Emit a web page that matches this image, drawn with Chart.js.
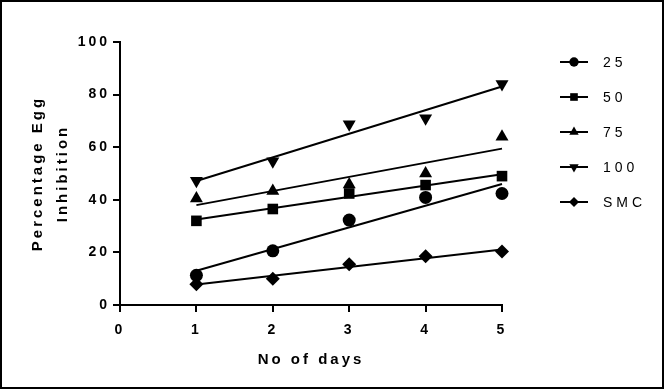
<!DOCTYPE html>
<html lang="en">
<head>
<meta charset="UTF-8">
<title>Percentage Egg Inhibition</title>
<script src="https://cdn.jsdelivr.net/npm/chart.js"></script>
<style>
  body { margin: 0; background: #fff; }
  #wrap { position: relative; width: 664px; height: 389px; }
  #wrap::after { content: ''; position: absolute; inset: 0; border: 2px solid #000; pointer-events: none; }
</style>
</head>
<body>
<div id="wrap"><canvas id="chart" width="664" height="389"></canvas></div>
<script>
// data
const days = [1, 2, 3, 4, 5];
const seriesNames = ['25', '50', '75', '100', 'SMC'];
const s25 = [11.3, 20.6, 32.3, 40.9, 42.4];
const s50 = [32.0, 36.5, 42.4, 45.6, 49.0];
const s75 = [40.5, 43.3, 45.8, 50.0, 64.0];
const s100 = [47.2, 54.7, 68.7, 71.0, 84.0];
const sSMC = [7.9, 10.0, 15.5, 18.5, 20.3];
const xTicks = [0, 1, 2, 3, 4, 5];
const yTicks = [0, 20, 40, 60, 80, 100];

const allSeries = [s25, s50, s75, s100, sSMC];
const markers = [
    { style: 'circle', r: 6.5, rot: 0 },
    { style: 'rect', r: 7.5, rot: 0 },
    { style: 'triangle', r: 7.5, rot: 0 },
    { style: 'triangle', r: 7.5, rot: 180 },
    { style: 'rectRot', r: 7, rot: 0 }
];

// linear regression line over the days
function fitLine(ys) {
    const n = days.length;
    const mx = days.reduce((a, b) => a + b, 0) / n;
    const my = ys.reduce((a, b) => a + b, 0) / n;
    let sxy = 0, sxx = 0;
    days.forEach((x, i) => { sxy += (x - mx) * (ys[i] - my); sxx += (x - mx) * (x - mx); });
    const b = sxy / sxx, a = my - b * mx;
    const x0 = days[0], x1 = days[n - 1];
    return [{ x: x0, y: a + b * x0 }, { x: x1, y: a + b * x1 }];
}

const datasets = [];
allSeries.forEach((ys, i) => {
    datasets.push({
        label: seriesNames[i],
        data: days.map((x, j) => ({ x: x, y: ys[j] })),
        pointStyle: markers[i].style,
        pointRadius: markers[i].r,
        rotation: markers[i].rot,
        backgroundColor: '#000',
        borderColor: '#000',
        borderWidth: 0,
        showLine: false,
        clip: false,
        order: 0
    });
    datasets.push({
        label: seriesNames[i] + ' fit',
        data: fitLine(ys),
        showLine: true,
        borderColor: '#000',
        borderWidth: 2,
        pointRadius: 0,
        clip: false,
        order: 1
    });
});

const spacing = {
    id: 'spacing',
    beforeDraw(chart) { chart.ctx.letterSpacing = '3px'; }
};

const lineLegend = {
    id: 'lineLegend',
    afterDraw(chart) {
        const ctx = chart.ctx;
        ctx.save();
        ctx.letterSpacing = '4px';
        ctx.fillStyle = '#000';
        ctx.strokeStyle = '#000';
        ctx.font = '14px "Liberation Sans", Arial, sans-serif';
        ctx.textBaseline = 'middle';
        seriesNames.forEach((name, i) => {
            const y = 62 + i * 35;
            ctx.lineWidth = 2;
            ctx.beginPath();
            ctx.moveTo(560, y);
            ctx.lineTo(588, y);
            ctx.stroke();
            Chart.helpers.drawPoint(ctx, {
                pointStyle: markers[i].style,
                radius: markers[i].r * 0.72,
                rotation: markers[i].rot,
                borderWidth: 0
            }, 574, y);
            ctx.fillText(name, 603, y + 1);
        });
        ctx.restore();
    }
};

const tickFont = { family: '"Liberation Sans", Arial, sans-serif', size: 14, weight: 'bold' };
const titleFont = { family: '"Liberation Sans", Arial, sans-serif', size: 15, weight: 'bold' };

new Chart(document.getElementById('chart'), {
    type: 'scatter',
    data: { datasets: datasets },
    plugins: [spacing, lineLegend],
    options: {
        responsive: false,
        animation: false,
        layout: { padding: { left: 0, top: 42, right: 162, bottom: 0 } },
        plugins: {
            legend: { display: false },
            tooltip: { enabled: false }
        },
        scales: {
            x: {
                type: 'linear',
                min: xTicks[0],
                max: xTicks[xTicks.length - 1],
                afterBuildTicks: s => { s.ticks = xTicks.map(v => ({ value: v })); },
                afterFit: s => { s.height = 84; },
                border: { color: '#000', width: 2 },
                grid: { drawOnChartArea: false, color: '#000', lineWidth: 2, tickLength: 7 },
                ticks: { color: '#000', font: tickFont, padding: 10, maxRotation: 0 },
                title: {
                    display: true,
                    text: 'No of days',
                    color: '#000',
                    font: titleFont,
                    padding: { top: 0, bottom: 20 }
                }
            },
            y: {
                type: 'linear',
                min: yTicks[0],
                max: yTicks[yTicks.length - 1],
                afterBuildTicks: s => { s.ticks = yTicks.map(v => ({ value: v })); },
                afterFit: s => { s.width = 120; },
                border: { color: '#000', width: 2 },
                grid: { drawOnChartArea: false, color: '#000', lineWidth: 2, tickLength: 7 },
                ticks: { color: '#000', font: tickFont, padding: 3 },
                title: {
                    display: true,
                    text: ['Percentage Egg', 'Inhibition'],
                    color: '#000',
                    font: Object.assign({}, titleFont, { lineHeight: '25px' }),
                    padding: { top: 25, bottom: 0 }
                }
            }
        }
    }
});
</script>
</body>
</html>
